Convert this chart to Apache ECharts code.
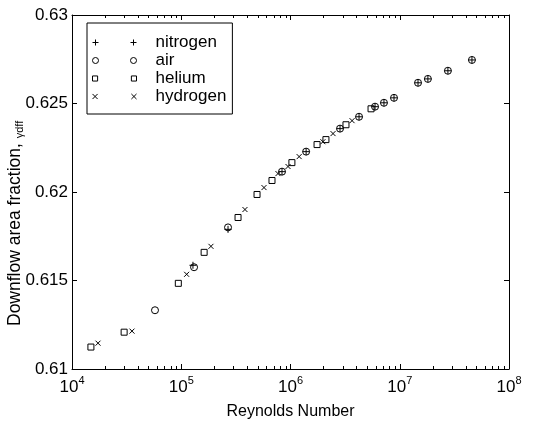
<!DOCTYPE html>
<html>
<head>
<meta charset="utf-8">
<script src="https://cdn.jsdelivr.net/npm/echarts@6/dist/echarts.min.js"></script>
<style>html,body{margin:0;padding:0;background:#fff}#c{width:541px;height:425px}</style>
</head>
<body>
<div id="c"></div>
<script>
// ---- data ----
const seriesNames = ['nitrogen', 'air', 'helium', 'hydrogen'];
const nitrogenRe = [1.28e5, 2.68e5, 8.36e5, 1.39e6, 2.84e6, 4.24e6, 5.94e6, 7.17e6, 8.86e6, 1.47e7, 1.81e7, 2.76e7, 4.58e7];
const nitrogenY  = [0.61586, 0.61789, 0.62115, 0.62228, 0.62358, 0.62425, 0.62482, 0.62504, 0.62532, 0.62617, 0.62639, 0.62685, 0.62746];
const airRe = [5.75e4, 1.31e5, 2.68e5, 8.36e5, 1.39e6, 2.84e6, 4.24e6, 5.94e6, 7.17e6, 8.86e6, 1.47e7, 1.81e7, 2.76e7, 4.58e7];
const airY  = [0.61332, 0.61575, 0.61800, 0.62115, 0.62228, 0.62358, 0.62425, 0.62482, 0.62504, 0.62532, 0.62617, 0.62639, 0.62685, 0.62746];
const heliumRe = [1.49e4, 3.0e4, 9.4e4, 1.62e5, 3.31e5, 4.94e5, 6.77e5, 1.03e6, 1.75e6, 2.11e6, 3.22e6, 5.46e6];
const heliumY  = [0.61124, 0.61208, 0.61484, 0.61659, 0.61856, 0.61986, 0.62065, 0.62166, 0.62268, 0.62296, 0.62380, 0.62470];
const hydrogenRe = [1.73e4, 3.54e4, 1.12e5, 1.87e5, 3.83e5, 5.72e5, 7.68e5, 9.49e5, 1.20e6, 1.98e6, 2.45e6, 3.66e6];
const hydrogenY  = [0.61146, 0.61214, 0.61535, 0.61693, 0.61901, 0.62025, 0.62104, 0.62144, 0.62200, 0.62284, 0.62330, 0.62403];
const xMin = 1e4, xMax = 1e8;
const yMin = 0.61, yMax = 0.63, yStep = 0.005;
const xTitle = 'Reynolds Number';
const yTitleMain = 'Downflow area fraction, ';
const yTitleSub = 'γdff';

// ---- helpers ----
const FONT = '"Liberation Sans", Arial, Helvetica, sans-serif';
const pair = (xs, ys) => xs.map((x, i) => [x, ys[i]]);
const SYM = {
  plus: 'path://M0,5L10,5M5,0L5,10',
  cross: 'path://M0,0L10,10M10,0L0,10'
};
const ICON = {
  plus: 'path://M0,3L6,3M3,0L3,6M38,3L44,3M41,0L41,6',
  circle: 'path://M6,3A3,3,0,1,1,0,3A3,3,0,1,1,6,3M44,3A3,3,0,1,1,38,3A3,3,0,1,1,44,3',
  rect: 'path://M0.5,0.5L5.5,0.5L5.5,5.5L0.5,5.5ZM38.5,0.5L43.5,0.5L43.5,5.5L38.5,5.5Z',
  cross: 'path://M0.5,0.5L5.5,5.5M5.5,0.5L0.5,5.5M38.5,0.5L43.5,5.5M43.5,0.5L38.5,5.5'
};
const markStyle = {color: 'rgba(0,0,0,0)', borderColor: '#000', borderWidth: 1, opacity: 1};

function mkSeries(name, data, symbol, size) {
  return {
    name, type: 'scatter', data, symbol, symbolSize: size,
    xAxisIndex: 0, yAxisIndex: 0,
    itemStyle: markStyle,
    emphasis: {disabled: true},
    animation: false
  };
}

const chart = echarts.init(document.getElementById('c'), null, {renderer: 'canvas'});
const axisLineStyle = {color: '#000', width: 1};
chart.setOption({
  backgroundColor: '#fff',
  animation: false,
  textStyle: {fontFamily: FONT, color: '#000'},
  grid: {left: 72, right: 32, top: 15, bottom: 56, containLabel: false},
  legend: {
    orient: 'vertical', left: 87, top: 23,
    padding: [11, 6, 9, 5], itemGap: 1,
    itemWidth: 44, itemHeight: 6,
    borderColor: '#000', borderWidth: 1, backgroundColor: '#fff',
    selectedMode: false,
    itemStyle: {color: 'rgba(0,0,0,0)', borderColor: '#000', borderWidth: 1},
    textStyle: {fontFamily: FONT, fontSize: 17, color: '#000', padding: [0, 0, 0, 14]},
    data: [
      {name: seriesNames[0], icon: ICON.plus},
      {name: seriesNames[1], icon: ICON.circle},
      {name: seriesNames[2], icon: ICON.rect},
      {name: seriesNames[3], icon: ICON.cross}
    ]
  },
  xAxis: [{
    type: 'log', logBase: 10, min: xMin, max: xMax, position: 'bottom',
    name: xTitle, nameLocation: 'middle', nameGap: 35,
    nameTextStyle: {fontFamily: FONT, fontSize: 16, color: '#000'},
    axisLine: {show: true, lineStyle: axisLineStyle},
    axisTick: {show: true, inside: true, length: 5, lineStyle: axisLineStyle},
    splitLine: {show: false},
    axisLabel: {
      margin: 6, color: '#000',
      formatter: v => '{b|10}{s|' + Math.round(Math.log10(v)) + '}',
      rich: {
        b: {fontFamily: FONT, fontSize: 17, lineHeight: 24, color: '#000'},
        s: {fontFamily: FONT, fontSize: 11, lineHeight: 11, verticalAlign: 'top', color: '#000'}
      }
    }
  }, {
    type: 'log', logBase: 10, min: xMin, max: xMax, position: 'top',
    axisLine: {show: true, lineStyle: axisLineStyle},
    axisTick: {show: true, inside: true, length: 5, lineStyle: axisLineStyle},
    axisLabel: {show: false}, splitLine: {show: false}
  }],
  yAxis: [{
    type: 'value', min: yMin, max: yMax, interval: yStep, position: 'left',
    axisLine: {show: true, lineStyle: axisLineStyle},
    axisTick: {show: true, inside: true, length: 5, lineStyle: axisLineStyle},
    splitLine: {show: false},
    axisLabel: {
      margin: 4, color: '#000', fontFamily: FONT, fontSize: 17,
      formatter: v => v.toFixed(3).replace(/0+$/, '')
    }
  }, {
    type: 'value', min: yMin, max: yMax, interval: yStep, position: 'right',
    axisLine: {show: true, lineStyle: axisLineStyle},
    axisTick: {show: true, inside: true, length: 5, lineStyle: axisLineStyle},
    axisLabel: {show: false}, splitLine: {show: false}
  }],
  series: [
    mkSeries(seriesNames[0], pair(nitrogenRe, nitrogenY), SYM.plus, 7),
    mkSeries(seriesNames[1], pair(airRe, airY), 'circle', 7),
    mkSeries(seriesNames[2], pair(heliumRe, heliumY), 'rect', 6),
    mkSeries(seriesNames[3], pair(hydrogenRe, hydrogenY), SYM.cross, 5)
  ]
});

// minor ticks on the log axis (2..9 per decade), placed through the axis scale
const g = [];
const yb = Math.round(chart.convertToPixel({yAxisIndex: 0}, yMin));
const yt = Math.round(chart.convertToPixel({yAxisIndex: 0}, yMax));
for (let d = Math.log10(xMin); d < Math.log10(xMax); d++) {
  for (let k = 2; k <= 9; k++) {
    const x = Math.round(chart.convertToPixel({xAxisIndex: 0}, k * Math.pow(10, d))) + 0.5;
    g.push({type: 'line', silent: true, shape: {x1: x, y1: yb, x2: x, y2: yb - 3}, style: {stroke: '#000', lineWidth: 1}});
    g.push({type: 'line', silent: true, shape: {x1: x, y1: yt, x2: x, y2: yt + 3}, style: {stroke: '#000', lineWidth: 1}});
  }
}
// y-axis title (rotated, with subscript)
g.push({
  type: 'text', silent: true, x: 15, y: 326, rotation: Math.PI / 2,
  style: {
    text: '{m|' + yTitleMain + '}{s|' + yTitleSub + '}',
    align: 'left', verticalAlign: 'middle',
    rich: {
      m: {fontFamily: FONT, fontSize: 17.5, lineHeight: 18, verticalAlign: 'top', fill: '#000'},
      s: {fontFamily: FONT, fontSize: 11, lineHeight: 11, padding: [10, 0, 0, 0], fill: '#000'}
    }
  }
});
chart.setOption({graphic: g});
</script>
</body>
</html>
